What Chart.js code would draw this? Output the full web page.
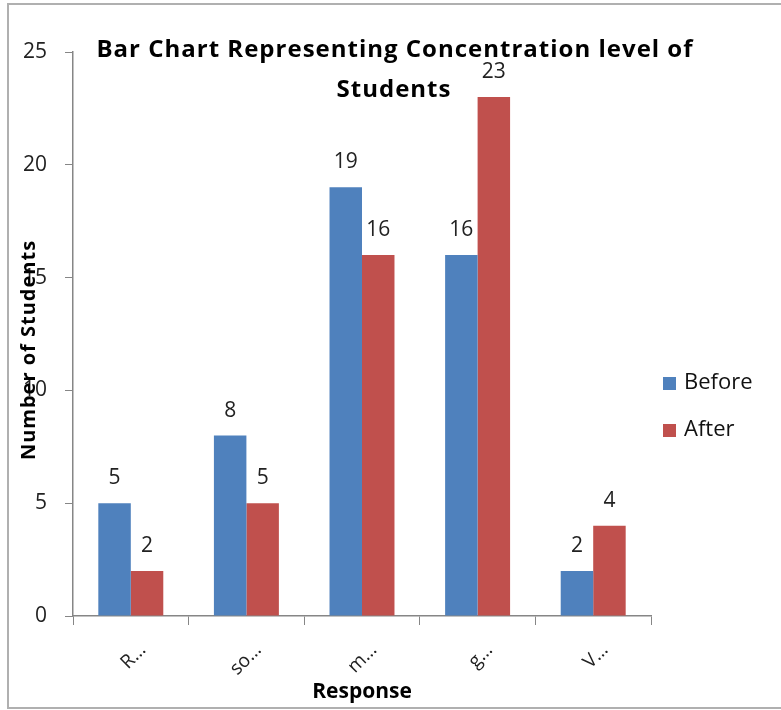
<!DOCTYPE html>
<html>
<head>
<meta charset="utf-8">
<script src="https://cdn.jsdelivr.net/npm/chart.js@4.4.1/dist/chart.umd.min.js"></script>
<style>
  html, body { margin: 0; padding: 0; background: #fff; }
  #wrap { width: 781px; height: 710px; }
</style>
</head>
<body>
<div id="wrap"><canvas id="myChart" width="781" height="710"></canvas></div>
<script>
// chart data
const categories = ['R…', 'so…', 'm…', 'g…', 'V…'];
const beforeValues = [5, 8, 19, 16, 2];
const afterValues = [2, 5, 16, 23, 4];
const seriesNames = ['Before', 'After'];
const yTicks = [0, 5, 10, 15, 20, 25];

const titleLines = ['Bar Chart Representing Concentration level of', 'Students'];
const yTitle = 'Number of Students';
const xTitle = 'Response';

const FONT = '"Open Sans", Calibri, sans-serif';

// frame, title, y-axis title, value labels and legend drawn on top
const extras = {
    id: 'extras',
    beforeDraw(chart) {
        const ctx = chart.ctx;
        ctx.save();
        ctx.fillStyle = '#fff';
        ctx.fillRect(0, 0, chart.width, chart.height);
        ctx.strokeStyle = '#b0b0b0';
        ctx.lineWidth = 2;
        ctx.strokeRect(8, 4, chart.width + 10, chart.height - 6);
        ctx.restore();
    },
    afterDatasetsDraw(chart) {
        const ctx = chart.ctx;
        ctx.save();
        ctx.font = '21px ' + FONT;
        ctx.fillStyle = '#222';
        ctx.textAlign = 'center';
        ctx.textBaseline = 'middle';
        chart.data.datasets.forEach((ds, i) => {
            chart.getDatasetMeta(i).data.forEach((bar, j) => {
                ctx.fillText(String(ds.data[j]), bar.x, bar.y - 25);
            });
        });
        ctx.restore();
    },
    afterDraw(chart) {
        const ctx = chart.ctx;
        ctx.save();
        // title
        ctx.fillStyle = '#000';
        ctx.font = 'bold 24px ' + FONT;
        ctx.letterSpacing = '1px';
        ctx.textAlign = 'center';
        ctx.textBaseline = 'alphabetic';
        ctx.fillText(titleLines[0], 395, 57);
        ctx.fillText(titleLines[1], 394, 97);

        // y axis title
        ctx.save();
        ctx.translate(29, 350);
        ctx.rotate(-Math.PI / 2);
        ctx.font = 'bold 20px ' + FONT;
        ctx.letterSpacing = '1px';
        ctx.textBaseline = 'middle';
        ctx.fillText(yTitle, 0, 0);
        ctx.restore();

        // legend
        ctx.font = '22px ' + FONT;
        ctx.letterSpacing = '0px';
        ctx.textAlign = 'left';
        ctx.textBaseline = 'middle';
        chart.data.datasets.forEach((ds, i) => {
            const cy = 383 + i * 47;
            ctx.fillStyle = ds.backgroundColor;
            ctx.fillRect(663, cy - 6, 13, 13);
            ctx.fillStyle = '#111';
            ctx.fillText(ds.label, 684, cy);
        });
        ctx.restore();
    }
};

const ctx = document.getElementById('myChart').getContext('2d');

new Chart(ctx, {
    type: 'bar',
    data: {
        labels: categories,
        datasets: [
            { label: seriesNames[0], data: beforeValues, backgroundColor: '#4F81BD' },
            { label: seriesNames[1], data: afterValues, backgroundColor: '#C0504D' }
        ]
    },
    options: {
        responsive: false,
        animation: false,
        categoryPercentage: 0.562,
        barPercentage: 1,
        layout: { padding: { left: 0, top: 52, right: 130, bottom: 0 } },
        plugins: {
            legend: { display: false },
            title: { display: false },
            tooltip: { enabled: false }
        },
        scales: {
            x: {
                afterFit(scale) { scale.height = 94; },
                grid: { drawOnChartArea: false, drawTicks: true, tickLength: 9, color: '#868686', offset: true },
                border: { display: true, color: '#868686', width: 1.5 },
                ticks: {
                    color: '#222',
                    font: { family: FONT, size: 19 },
                    minRotation: 45,
                    maxRotation: 45,
                    labelOffset: 12,
                    padding: 14
                },
                title: {
                    display: true,
                    text: xTitle,
                    color: '#000',
                    font: { family: FONT, size: 21, weight: 'bold' },
                    padding: { top: 0, bottom: 5 }
                }
            },
            y: {
                min: 0,
                max: 25,
                afterFit(scale) { scale.width = 73; },
                afterBuildTicks(scale) { scale.ticks = yTicks.map(v => ({ value: v })); },
                grid: { drawOnChartArea: false, drawTicks: true, tickLength: 8, color: '#868686' },
                border: { display: true, color: '#868686', width: 1.5 },
                ticks: {
                    color: '#222',
                    font: { family: FONT, size: 21 },
                    padding: 18
                }
            }
        }
    },
    plugins: [extras]
});
</script>
</body>
</html>
